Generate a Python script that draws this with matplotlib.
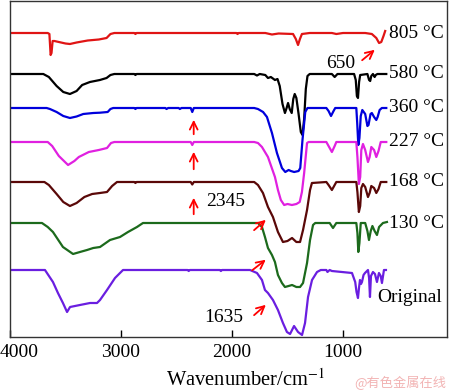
import matplotlib
matplotlib.use('Agg')
import matplotlib.pyplot as plt
import matplotlib.transforms as mtransforms
import numpy as np

# FTIR spectra: wavenumber (cm-1) and absorption depth below each baseline (a.u.)
wn_805 = [4000, 3660, 3645, 3634, 3626, 3616, 3600, 3560, 3500, 3460, 3400, 3300, 3200, 3130, 3095, 3060,
          2880, 2870, 2860, 1960, 1950, 1940, 1700, 1640, 1580, 1450, 1425, 1405, 1388, 1370, 1300, 1100,
          1060, 1000, 800, 740, 700, 675, 655, 635, 620]
d_805 = [0, 0, 1, 22, 20, 8, 8, 9, 10.5, 11, 9.5, 7.5, 6.5, 5, 1, 0,
         0, 1, 0, 0, 1, 0, 0, 1.5, 0.5, 1, 6, 12, 6, 1, 0, 0,
         1, 0, 0, 1, 5, 10, 9, 3, -2]

wn_580 = [4000, 3700, 3650, 3580, 3520, 3460, 3400, 3350, 3280, 3190, 3130, 3095, 3060, 2880, 2870, 2860,
          1800, 1775, 1750, 1700, 1676, 1650, 1613, 1590, 1570, 1545, 1523, 1508, 1495, 1480, 1462, 1448,
          1435, 1420, 1400, 1380, 1365, 1350, 1335, 1320, 1300, 1100, 1075, 1050, 900, 885, 875, 865,
          855, 845, 780, 765, 755, 745, 730, 715, 705, 690, 610]
d_580 = [0, 0, 3, 12, 18, 20, 17, 11, 8, 6, 4, 1, 0, 0, 1, 0,
         0, 1.5, 0, 1, 4, 3, 6, 5, 12, 30, 39, 34, 29, 35, 39, 25,
         20, 24, 40, 58, 61, 45, 15, 2, 0, 0, 3, 0, 0, 6, 22, 24,
         8, 1, 0, 6, 7, 2, 0, 3, 1, 0, 0]

wn_360 = [4000, 3670, 3640, 3580, 3520, 3460, 3400, 3340, 3250, 3190, 3120, 3095, 3070, 2880, 2870, 2860,
          2600, 2590, 2575, 2480, 2470, 2455, 2372, 2358, 2344, 1800, 1766, 1720, 1685, 1640, 1595, 1550,
          1520, 1490, 1470, 1440, 1400, 1385, 1365, 1340, 1320, 1150, 1130, 1108, 1085, 1070, 880, 872,
          862, 852, 840, 826, 800, 780, 770, 752, 740, 720, 700, 688, 670, 650, 610]
d_360 = [0, 0, 1, 4, 8, 10, 8.5, 6, 5, 4.7, 4, 1, 0, 0, 1, 0,
         0, 1, 0, 0, 1, 0, 0, 4, 0, 0, 1, 4, 9, 25, 45, 60,
         64, 62, 63, 64, 63, 60, 32, 4, 0, 0, 3, 8, 3, 0, 0, 15,
         37, 30, 8, 2, 6, 18, 17, 6, 5, 9, 12, 9, 2, 0, 0]

wn_227 = [4000, 3660, 3620, 3560, 3477, 3420, 3380, 3290, 3200, 3126, 3090, 3060, 2372, 2358, 2344, 1800,
          1766, 1730, 1676, 1613, 1586, 1560, 1530, 1500, 1460, 1420, 1390, 1370, 1350, 1324, 1310, 1150,
          1130, 1100, 1075, 1060, 880, 870, 857, 845, 835, 820, 800, 775, 760, 745, 720, 700, 680, 660, 610]
d_227 = [0, 0, 4, 14, 23, 19, 15, 10, 8, 6, 1, 0, 0, 3, 0, 0,
         1, 5, 15, 35, 48, 58, 63, 62, 63, 62, 60, 50, 31, 1, 0, 0,
         4, 10, 4, 0, 0, 15, 42, 35, 8, 2, 8, 20, 15, 5, 8, 15, 9, 0, 0]

wn_168 = [4000, 3690, 3650, 3580, 3520, 3460, 3400, 3330, 3260, 3190, 3126, 3080, 3036, 2880, 2870, 2860,
          2372, 2358, 2344, 1800, 1766, 1721, 1676, 1631, 1586, 1541, 1500, 1459, 1420, 1387, 1360, 1324,
          1297, 1280, 1150, 1130, 1100, 1075, 1060, 880, 870, 857, 845, 835, 820, 800, 775, 760, 745, 720,
          700, 680, 660, 610]
d_168 = [0, 0, 3, 12, 20, 24, 21, 15, 12, 11, 10, 4, 0, 0, 1, 0,
         0, 2.5, 0, 0, 3, 11, 25, 35, 50, 60, 59, 56, 60, 60, 48, 28,
         8, 1, 0, 3, 8, 3, 0, 0, 10, 30, 24, 6, 2, 5, 15, 11, 4, 6,
         11, 7, 0, 0]

wn_130 = [4000, 3712, 3660, 3613, 3523, 3432, 3370, 3306, 3250, 3189, 3099, 3009, 2937, 2856, 2802, 1800,
          1766, 1730, 1703, 1676, 1640, 1613, 1586, 1550, 1523, 1490, 1459, 1420, 1387, 1360, 1324, 1297,
          1270, 1250, 1120, 1090, 1060, 880, 870, 862, 852, 840, 800, 780, 766, 750, 735, 715, 694, 675,
          640, 604]
d_130 = [0, 0, 4, 9, 24, 31, 29, 27, 25, 24, 17, 14, 9, 4, 0, 0,
         0, 4, 14, 25, 32, 39, 52, 60, 64, 63, 62, 64, 64, 60, 40, 17,
         2, 0, 0, 5, 0, 0, 10, 29, 20, 0, 0, 8, 17, 8, 3, 8, 12, 4,
         0, -1]

wn_orig = [4000, 3685, 3613, 3568, 3523, 3486, 3459, 3370, 3279, 3216, 3189, 3126, 3054, 2982, 2400, 2390,
           2380, 2110, 2100, 2090, 1838, 1775, 1730, 1703, 1676, 1631, 1586, 1541, 1505, 1477, 1441, 1405,
           1369, 1342, 1315, 1279, 1234, 1200, 1150, 1140, 1120, 1100, 919, 890, 878, 865, 856, 847,
           838, 829, 815, 802, 775, 765, 757, 748, 730, 712, 694, 676, 660, 649, 631, 613]
d_orig = [0, 0, 12, 23, 33, 42, 37, 35, 33, 33, 30, 20, 8, 0, 0, 1,
          0, 0, 1, 0, 0, 3, 10, 20, 23, 30, 40, 53, 62, 64, 56, 62,
          65, 53, 27, 10, 2, 0, 0, 2, 0, 1, 3, 12, 22, 28, 18, 10,
          14, 12, 5, 3, 0, 8, 27, 6, 2, 4, 12, 3, 6, 13, 0, 0]

series = [
    (wn_805, d_805, 304, '#e01414', '805 °C'),
    (wn_580, d_580, 263, '#000000', '580 °C'),
    (wn_360, d_360, 229, '#0000dc', '360 °C'),
    (wn_227, d_227, 195, '#e020e0', '227 °C'),
    (wn_168, d_168, 155, '#5a0808', '168 °C'),
    (wn_130, d_130, 114, '#1c6a1c', '130 °C'),
    (wn_orig, d_orig, 67, '#6a1ee0', 'Original'),
]

plt.rcParams['font.family'] = ['Liberation Serif', 'DejaVu Serif']
plt.rcParams['mathtext.fontset'] = 'stix'
plt.rcParams['font.size'] = 14

fig = plt.figure(figsize=(4.5, 3.91), dpi=100)
ax = fig.add_axes([10 / 450, 54 / 391, 437 / 450, 336 / 391])

for wn, d, off, col, lab in series:
    y = off - np.array(d, dtype=float)
    ax.plot(wn, y, color=col, lw=1.6)
    if lab == 'Original':
        ax.text(694, 39, lab, ha='left', va='center', fontsize=14)
    else:
        ax.text(590, off, lab, ha='left', va='center', fontsize=14)

arrow = dict(arrowstyle='->', color='red', lw=1.3, mutation_scale=14)
# 650 band
ax.annotate('', xy=(694, 289), xytext=(847, 275), arrowprops=arrow)
ax.text(1018, 274, '650', ha='center', va='center', fontsize=14)
# 2345 band
for y0, y1 in [(200, 220), (165, 188), (120, 142)]:
    ax.annotate('', xy=(2345, y1), xytext=(2345, y0), arrowprops=arrow)
ax.text(2054, 135, '2345', ha='center', va='center', fontsize=14)
# 1635 shoulder
for x0, y0, y1 in [(1820, 105, 119), (1838, 65, 79), (1820, 20, 34)]:
    ax.annotate('', xy=(1676, y1), xytext=(x0, y0), arrowprops=arrow)
ax.text(2072, 19, '1635', ha='center', va='center', fontsize=14)

ax.set_xlim(4000, 63)
ax.set_ylim(0, 336)
ax.set_xticks([4000, 3000, 2000, 1000])
ax.set_yticks([])
ax.tick_params(axis='x', direction='in', length=5, width=1, pad=5, labelsize=14)
for s in ax.spines.values():
    s.set_linewidth(1.0)
    s.set_color('#333333')

lbl0 = ax.get_xticklabels()[0]
lbl0.set_ha('left')
lbl0.set_transform(lbl0.get_transform() + mtransforms.ScaledTranslation(-0.1, 0, fig.dpi_scale_trans))

fig.text(245 / 450, 1 - 386 / 391, 'Wavenumber/cm$^{-1}$', ha='center', va='baseline', fontsize=14.8)

fig.text(400 / 450, 1 - 383 / 391, '@有色金属在线', ha='center', va='center', fontsize=9.5,
         color='#f2b4b4', family=['Noto Sans CJK SC', 'DejaVu Sans'])

fig.savefig('out.png', dpi=100)
